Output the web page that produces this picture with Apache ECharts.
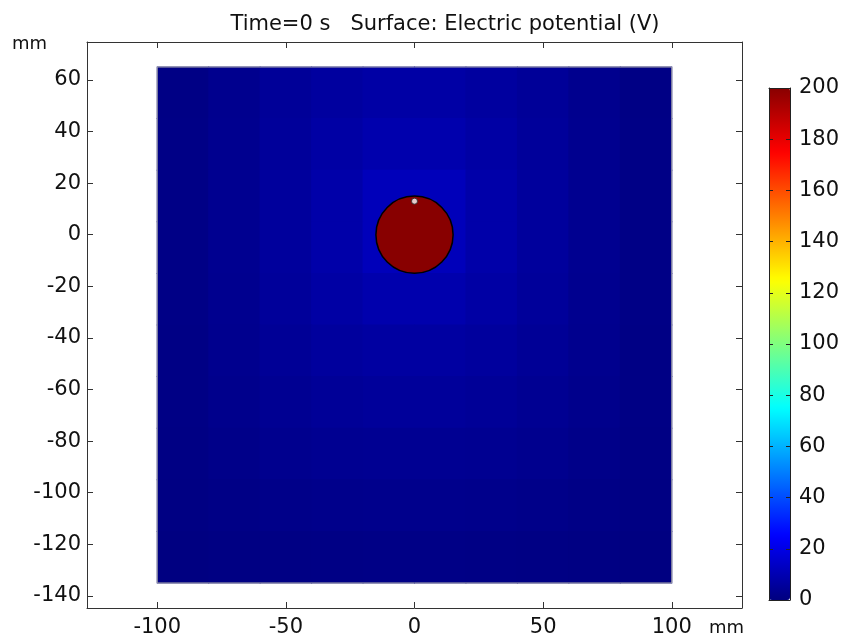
<!DOCTYPE html>
<html>
<head>
<meta charset="utf-8">
<script src="https://cdn.jsdelivr.net/npm/echarts@6/dist/echarts.min.js"></script>
<style>html,body{margin:0;padding:0;background:#fff}#c{width:843px;height:639px}</style>
</head>
<body>
<div id="c"></div>
<script>
// ---- data ----
const titleText = 'Time=0 s   Surface: Electric potential (V)';
const xTicks = [-100, -50, 0, 50, 100];
const yTicks = [-140, -120, -100, -80, -60, -40, -20, 0, 20, 40, 60];
const barTicks = [0, 20, 40, 60, 80, 100, 120, 140, 160, 180, 200];
const xRange = [-127.3, 127.3];
const yRange = [-144.7, 74.7];
const potentialRange = [0, 200];
const domainX = [-100, 100];
const domainY = [-135, 65];
// cell centres of the sampled potential field (mm)
const cellX = [-90, -70, -50, -30, -10, 10, 30, 50, 70, 90];
const cellY = [55, 35, 15, -5, -25, -45, -65, -85, -105, -125];
// potential (V), rows follow cellY, columns follow cellX
const fieldValues = [
  [1.2, 3.0, 4.8, 6.3, 7.4, 7.4, 6.3, 4.8, 3.0, 1.2],
  [1.3, 3.2, 5.3, 7.3, 9.0, 9.0, 7.3, 5.3, 3.2, 1.3],
  [1.4, 3.4, 5.7, 8.3, 11.5, 11.5, 8.3, 5.7, 3.4, 1.4],
  [1.4, 3.4, 5.7, 8.3, 11.5, 11.5, 8.3, 5.7, 3.4, 1.4],
  [1.3, 3.2, 5.2, 7.2, 8.9, 8.9, 7.2, 5.2, 3.2, 1.3],
  [1.2, 2.9, 4.5, 5.8, 6.7, 6.7, 5.8, 4.5, 2.9, 1.2],
  [1.1, 2.5, 3.7, 4.6, 5.2, 5.2, 4.6, 3.7, 2.5, 1.1],
  [0.9, 2.0, 2.9, 3.5, 3.8, 3.8, 3.5, 2.9, 2.0, 0.9],
  [0.7, 1.4, 2.0, 2.4, 2.6, 2.6, 2.4, 2.0, 1.4, 0.7],
  [0.4, 0.7, 1.0, 1.2, 1.3, 1.3, 1.2, 1.0, 0.7, 0.4]
];
// electrode: centre x, centre y, potential, radius (mm)
const electrode = [0, 0, 200, 15];
const probePoint = [0, 13];
const jetColors = ['#00007f', '#0000ff', '#007fff', '#00ffff', '#7fff7f', '#ffff00', '#ff7f00', '#ff0000', '#880000'];

// ---- build ----
const fieldData = [];
cellY.forEach((y, i) => cellX.forEach((x, j) => fieldData.push([x, y, fieldValues[i][j]])));
const cellW = cellX[1] - cellX[0];
const cellH = cellY[0] - cellY[1];

const FONT = 'DejaVu Sans';
const AX = '#333';
const LBL = 21;
const chart = echarts.init(document.getElementById('c'), null, {renderer: 'canvas'});

chart.setOption({
  animation: false,
  backgroundColor: '#fff',
  title: {
    text: titleText, left: 440, top: 9, textAlign: 'center',
    textStyle: {fontFamily: FONT, fontSize: 21, fontWeight: 'normal', color: '#111'}
  },
  grid: [
    {left: 87, top: 42, width: 655, height: 566, containLabel: false},
    {left: 769, top: 88, width: 21, height: 512, containLabel: false}
  ],
  xAxis: [
    {type: 'value', gridIndex: 0, position: 'bottom', min: xRange[0], max: xRange[1],
      axisLine: {show: true, onZero: false, lineStyle: {color: AX, width: 1}},
      axisTick: {show: true, inside: true, length: 6, customValues: xTicks, lineStyle: {color: AX}},
      axisLabel: {show: true, customValues: xTicks, margin: 9, fontFamily: FONT, fontSize: LBL, color: '#111'},
      splitLine: {show: false}, z: 10},
    {type: 'value', gridIndex: 0, position: 'top', min: xRange[0], max: xRange[1],
      axisLine: {show: true, onZero: false, lineStyle: {color: AX, width: 1}},
      axisTick: {show: true, inside: true, length: 6, customValues: xTicks, lineStyle: {color: AX}},
      axisLabel: {show: false}, splitLine: {show: false}, z: 10},
    {type: 'value', gridIndex: 1, position: 'bottom', min: 0, max: 1,
      axisLine: {show: true, onZero: false, lineStyle: {color: '#222', width: 1}},
      axisTick: {show: false}, axisLabel: {show: false}, splitLine: {show: false}, z: 10},
    {type: 'value', gridIndex: 1, position: 'top', min: 0, max: 1,
      axisLine: {show: true, onZero: false, lineStyle: {color: '#222', width: 1}},
      axisTick: {show: false}, axisLabel: {show: false}, splitLine: {show: false}, z: 10}
  ],
  yAxis: [
    {type: 'value', gridIndex: 0, position: 'left', min: yRange[0], max: yRange[1],
      axisLine: {show: true, onZero: false, lineStyle: {color: AX, width: 1}},
      axisTick: {show: true, inside: true, length: 6, customValues: yTicks, lineStyle: {color: AX}},
      axisLabel: {show: true, customValues: yTicks, margin: 6, fontFamily: FONT, fontSize: LBL, color: '#111'},
      splitLine: {show: false}, z: 10},
    {type: 'value', gridIndex: 0, position: 'right', min: yRange[0], max: yRange[1],
      axisLine: {show: true, onZero: false, lineStyle: {color: AX, width: 1}},
      axisTick: {show: true, inside: true, length: 6, customValues: yTicks, lineStyle: {color: AX}},
      axisLabel: {show: false}, splitLine: {show: false}, z: 10},
    {type: 'value', gridIndex: 1, position: 'right', min: potentialRange[0], max: potentialRange[1],
      axisLine: {show: true, onZero: false, lineStyle: {color: '#222', width: 1}},
      axisTick: {show: true, inside: true, length: 4, customValues: barTicks, lineStyle: {color: '#222'}},
      axisLabel: {show: true, customValues: barTicks, margin: 9, fontFamily: FONT, fontSize: LBL, color: '#111'},
      splitLine: {show: false}, z: 10},
    {type: 'value', gridIndex: 1, position: 'left', min: potentialRange[0], max: potentialRange[1],
      axisLine: {show: true, onZero: false, lineStyle: {color: '#222', width: 1}},
      axisTick: {show: true, inside: true, length: 4, customValues: barTicks, lineStyle: {color: '#222'}},
      axisLabel: {show: false}, splitLine: {show: false}, z: 10}
  ],
  visualMap: {
    type: 'continuous', min: potentialRange[0], max: potentialRange[1],
    seriesIndex: [0, 1], dimension: 2,
    inRange: {color: jetColors},
    calculable: false, realtime: false, hoverLink: false,
    itemWidth: 21, itemHeight: 512, left: 769, top: 88, padding: 0,
    text: null, showLabel: false, z: 2
  },
  graphic: [
    {type: 'text', left: 12, top: 35, style: {text: 'mm', fontFamily: FONT, fontSize: 18, fill: '#111'}},
    {type: 'text', left: 709, top: 619, style: {text: 'mm', fontFamily: FONT, fontSize: 18, fill: '#111'}}
  ],
  series: [
    {
      type: 'custom', xAxisIndex: 0, yAxisIndex: 0, data: fieldData, z: 1,
      renderItem: function (params, api) {
        const x = api.value(0), y = api.value(1);
        const p = api.coord([x - cellW / 2, y + cellH / 2]);
        const s = api.size([cellW, cellH]);
        return {type: 'rect', shape: {x: p[0] - 0.5, y: p[1] - 0.5, width: s[0] + 1, height: s[1] + 1},
          style: {fill: api.visual('color')}};
      }
    },
    {
      type: 'custom', xAxisIndex: 0, yAxisIndex: 0, data: [electrode], z: 3,
      renderItem: function (params, api) {
        const c = api.coord([api.value(0), api.value(1)]);
        const r = api.size([api.value(3), 0])[0];
        return {type: 'circle', shape: {cx: c[0], cy: c[1], r: r},
          style: {fill: api.visual('color'), stroke: '#000', lineWidth: 1.5}};
      }
    },
    {
      type: 'custom', xAxisIndex: 0, yAxisIndex: 0, data: [[domainX[0], domainY[1], domainX[1], domainY[0]]], z: 2,
      renderItem: function (params, api) {
        const a = api.coord([api.value(0), api.value(1)]);
        const b = api.coord([api.value(2), api.value(3)]);
        return {type: 'rect', shape: {x: a[0], y: a[1], width: b[0] - a[0], height: b[1] - a[1]},
          style: {fill: 'none', stroke: '#aaaaaa', lineWidth: 1}};
      }
    },
    {
      type: 'scatter', xAxisIndex: 0, yAxisIndex: 0, data: [probePoint], z: 4,
      symbol: 'circle', symbolSize: 6,
      itemStyle: {color: '#ffffff', borderColor: '#222', borderWidth: 1}
    }
  ]
});
</script>
</body>
</html>
